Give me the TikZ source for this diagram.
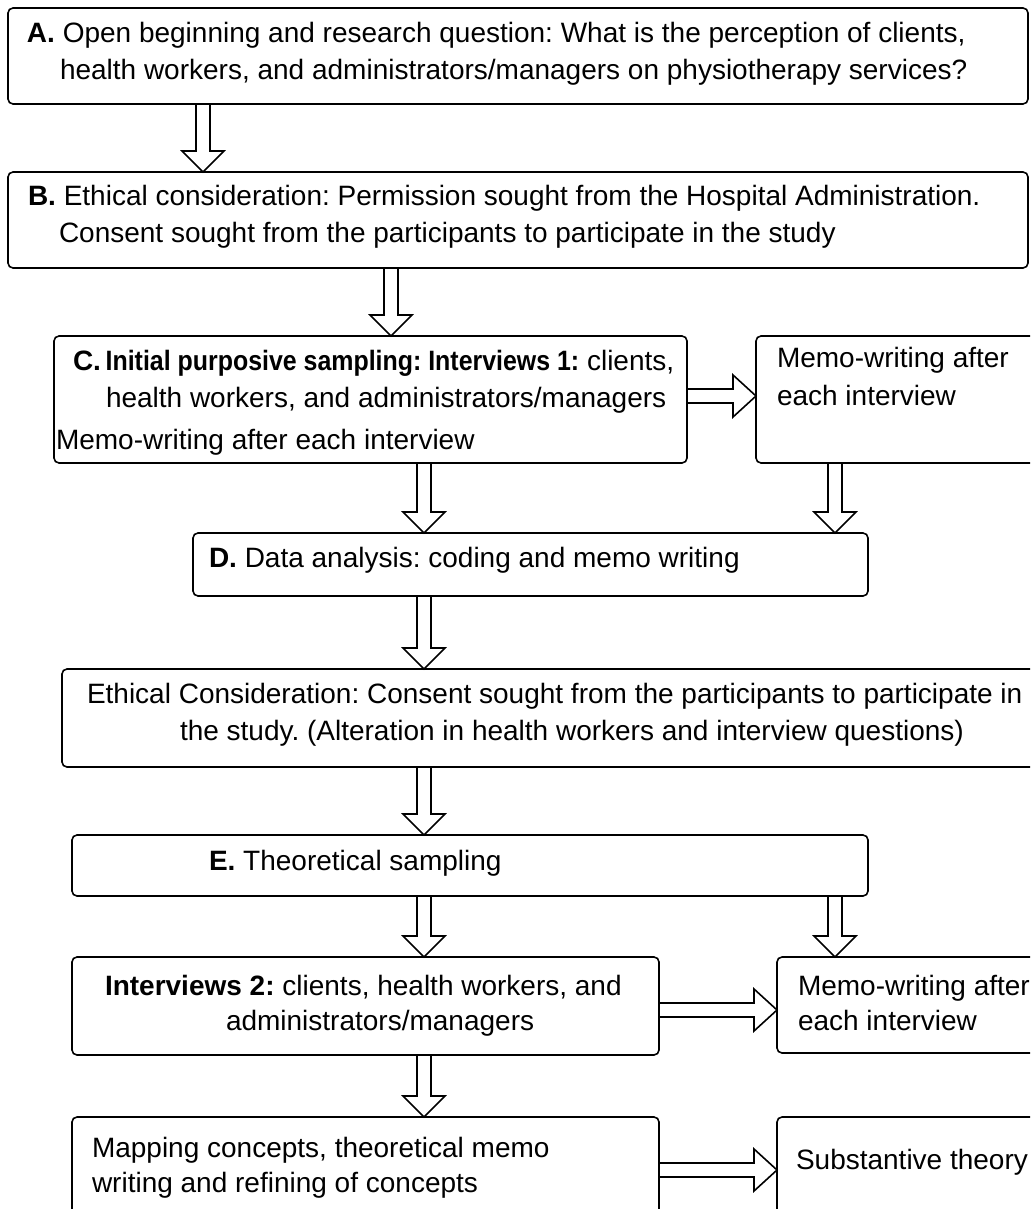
\documentclass[tikz,border=0pt]{standalone}
\usepackage{fontspec}
\setmainfont{Liberation Sans}
\usetikzlibrary{calc}

% box from (x1,y1) to (x2,y2), y measured downwards
\newcommand\flowbox[5]{%
  \node[box,minimum width={#4-#2},minimum height={#5-#3}] (#1) at ({(#2+#4)/2},{(#3+#5)/2}) {};}
% hollow downward arrow at horizontal position #1 from node #2 to node #3
\newcommand\vflow[3]{%
  \draw[flow] let \p1=(#2.south), \p2=(#3.north) in
    ({#1pt-7pt},\y1) -- ({#1pt-7pt},\y2+21pt) -- ({#1pt-21pt},\y2+21pt) --
    ({#1pt},\y2) -- ({#1pt+21pt},\y2+21pt) -- ({#1pt+7pt},\y2+21pt) -- ({#1pt+7pt},\y1);}
% hollow rightward arrow at vertical position #1 from node #2 to node #3
\newcommand\hflow[3]{%
  \draw[flow] let \p1=(#2.east), \p2=(#3.west) in
    (\x1,{-#1pt+7pt}) -- (\x2-23pt,{-#1pt+7pt}) -- (\x2-23pt,{-#1pt+21pt}) --
    (\x2,{-#1pt}) -- (\x2-23pt,{-#1pt-21pt}) -- (\x2-23pt,{-#1pt-7pt}) -- (\x1,{-#1pt-7pt});}
% condensed bold lead-in
\newcommand\narrowbold[1]{\scalebox{0.89}[1]{\textbf{#1}}}

\begin{document}
\frenchspacing
\begin{tikzpicture}[x=1pt,y=-1pt,
  box/.style={draw,line width=1.6pt,rounded corners=5pt,inner sep=0pt,outer sep=0pt},
  txt/.style={anchor=base west,inner sep=0pt,outer sep=0pt,font=\fontsize{28}{37}\selectfont},
  flow/.style={draw,line width=1.6pt,line join=miter}]
\fill[white] (0,0) rectangle (1030,1209);
\useasboundingbox (0,0) rectangle (1030,1209);
\clip (0,0) rectangle (1030,1209);

% boxes
\flowbox{A}{8}{8}{1028}{104}
\flowbox{B}{8}{172}{1028}{268}
\flowbox{C}{54}{336}{687}{463}
\flowbox{M1}{756}{336}{1045}{463}
\flowbox{D}{193}{533}{868}{596}
\flowbox{Eth}{62}{669}{1045}{767}
\flowbox{E}{72}{835}{868}{896}
\flowbox{I2}{72}{957}{659}{1055}
\flowbox{M2}{777}{957}{1045}{1053}
\flowbox{P}{72}{1117}{659}{1240}
\flowbox{S}{777}{1117}{1045}{1240}

% texts
\node[txt] (a1) at (27,43) {\textbf{A.} Open beginning and research question: What is the perception of clients,};
\node[txt] (a2) at (60,80) {health workers, and administrators/managers on physiotherapy services?};
\node[txt] (b1) at (28,205) {\textbf{B.} Ethical consideration: Permission sought from the Hospital Administration.};
\node[txt] (b2) at (59,242) {Consent sought from the participants to participate in the study};
\node[txt] (c1) at (73,370) {\textbf{C.}\,\narrowbold{Initial purposive sampling: Interviews 1:} clients,};
\node[txt] (c2) at (106,407) {health workers, and administrators/managers};
\node[txt] (c3) at (56,449) {Memo-writing after each interview};
\node[txt] (m1a) at (777,367) {Memo-writing after};
\node[txt] (m1b) at (777,405) {each interview};
\node[txt] (d1) at (209,567) {\textbf{D.} Data analysis: coding and memo writing};
\node[txt] (eth1) at (87,703) {Ethical Consideration: Consent sought from the participants to participate in};
\node[txt] (eth2) at (180,740) {the study. (Alteration in health workers and interview questions)};
\node[txt] (e1) at (209,870) {\textbf{E.} Theoretical sampling};
\node[txt] (i1) at (105,995) {\textbf{Interviews 2:} clients, health workers, and};
\node[txt] (i2) at (226,1030) {administrators/managers};
\node[txt] (m2a) at (798,995) {Memo-writing after};
\node[txt] (m2b) at (798,1030) {each interview};
\node[txt] (p1) at (92,1157) {Mapping concepts, theoretical memo};
\node[txt] (p2) at (92,1192) {writing and refining of concepts};
\node[txt] (s1) at (796,1169) {Substantive theory};

% connectors
\vflow{203}{A}{B}
\vflow{391}{B}{C}
\hflow{396}{C}{M1}
\vflow{424}{C}{D}
\vflow{835}{M1}{D}
\vflow{424}{D}{Eth}
\vflow{424}{Eth}{E}
\vflow{424}{E}{I2}
\vflow{835}{E}{M2}
\hflow{1010}{I2}{M2}
\vflow{424}{I2}{P}
\hflow{1170}{P}{S}
\end{tikzpicture}
\end{document}
